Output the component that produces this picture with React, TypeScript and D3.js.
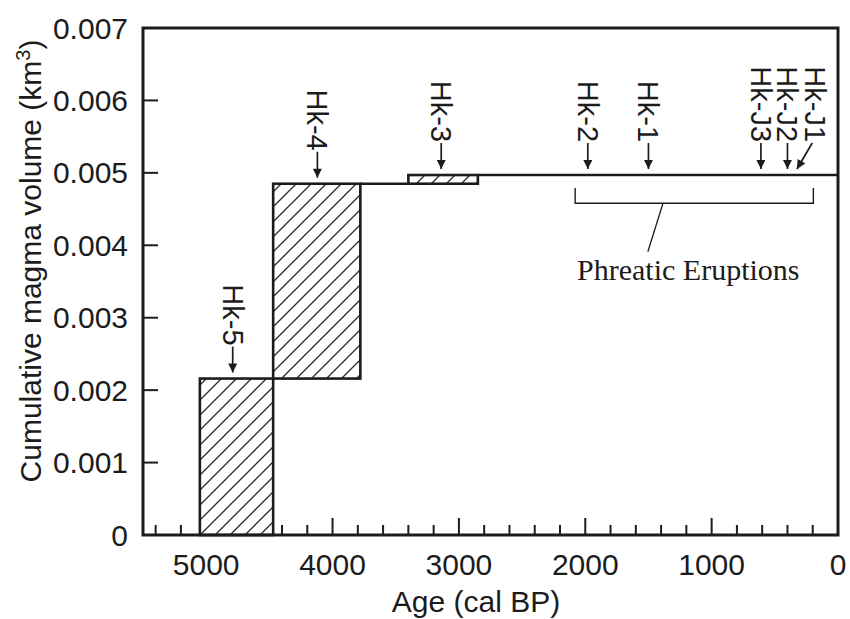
import React from 'react';
import * as d3 from 'd3';

// eruptions that added magma volume (ages in cal BP, volumes in km3)
const eruptionNames = ['Hk-5', 'Hk-4', 'Hk-3'];
const eruptionStart = [5050, 4470, 3400];
const eruptionEnd = [4470, 3780, 2850];
const volumeBefore = [0, 0.00216, 0.00485];
const volumeAfter = [0.00216, 0.00485, 0.00497];

// arrow markers
const markerNames = ['Hk-5', 'Hk-4', 'Hk-3', 'Hk-2', 'Hk-1', 'Hk-J3', 'Hk-J2', 'Hk-J1'];
const markerAges = [4790, 4120, 3140, 1980, 1500, 610, 400, 325];
const markerLabelAges = [4790, 4120, 3140, 1980, 1500, 610, 400, 180];

const xTicks = [5000, 4000, 3000, 2000, 1000, 0];
const xTickLabels = ['5000', '4000', '3000', '2000', '1000', '0'];
const yTicks = [0, 0.001, 0.002, 0.003, 0.004, 0.005, 0.006, 0.007];
const yTickLabels = ['0', '0.001', '0.002', '0.003', '0.004', '0.005', '0.006', '0.007'];

// phreatic eruptions bracket (ages, and volume level of the bracket)
const phreaticFrom = 2080;
const phreaticTo = 195;
const phreaticLabel = 'Phreatic Eruptions';

const width = 850;
const height = 619;
const margin = { top: 28, right: 12, bottom: 84, left: 143 };
const ink = '#1c1c1c';
const sans = 'Liberation Sans, Arial, Helvetica, sans-serif';
const serif = 'Liberation Serif, Times New Roman, serif';

const x = d3.scaleLinear().domain([5500, 0]).range([margin.left, width - margin.right]);
const y = d3.scaleLinear().domain([0, 0.007]).range([height - margin.bottom, margin.top]);

// cumulative volume at a given age
function curveAt(age: number) {
  let v = 0;
  for (let i = 0; i < eruptionNames.length; i++) {
    if (age <= eruptionStart[i]) v = volumeAfter[i];
  }
  return v;
}

export default function App() {
  const minorTicks = d3.range(5400, 0, -200);
  const majorTicks = d3.range(0.001, 0.0065, 0.001);

  // horizontal segments of the curve between eruptions
  const segments = eruptionNames.map((_, i) => {
    const from = eruptionEnd[i];
    const to = i < eruptionNames.length - 1 ? eruptionStart[i + 1] : 0;
    return { from, to, v: volumeAfter[i] };
  });

  const bracketY = y(0.00458);
  const bracketTop = y(0.00479);

  return (
    <svg width={width} height={height} style={{ position: 'absolute', left: 0, top: 0, background: '#fff' }}>
      <defs>
        <pattern id="hatch" patternUnits="userSpaceOnUse" width={15} height={15}>
          <path d="M-2,2 L2,-2 M0,15 L15,0 M13,17 L17,13" stroke="#2a2a2a" strokeWidth={1.3} />
        </pattern>
        <marker id="head" viewBox="0 0 10 10" refX={10} refY={5} markerWidth={10} markerHeight={9}
          markerUnits="userSpaceOnUse" orient="auto">
          <path d="M0,0 L10,5 L0,10 z" fill={ink} />
        </marker>
      </defs>

      {/* x ticks */}
      {minorTicks.map(t => (
        <line key={'xt' + t} x1={x(t)} x2={x(t)} y1={y(0)} y2={y(0) - (t % 1000 === 0 ? 17 : 10)}
          stroke={ink} strokeWidth={2} />
      ))}
      {/* y ticks */}
      {majorTicks.map(t => (
        <line key={'yt' + t} x1={x(5500)} x2={x(5500) + 15} y1={y(t)} y2={y(t)} stroke={ink} strokeWidth={2} />
      ))}

      {/* curve segments */}
      {segments.map((s, i) => (
        <line key={'seg' + i} x1={x(s.from)} x2={x(s.to)} y1={y(s.v)} y2={y(s.v)} stroke={ink} strokeWidth={2.6} />
      ))}

      {/* eruption boxes */}
      {eruptionNames.map((n, i) => (
        <g key={n}>
          <rect x={x(eruptionStart[i])} y={y(volumeAfter[i])}
            width={x(eruptionEnd[i]) - x(eruptionStart[i])}
            height={y(volumeBefore[i]) - y(volumeAfter[i])} fill="#fff" />
          <rect x={x(eruptionStart[i])} y={y(volumeAfter[i])}
            width={x(eruptionEnd[i]) - x(eruptionStart[i])}
            height={y(volumeBefore[i]) - y(volumeAfter[i])}
            fill="url(#hatch)" stroke={ink} strokeWidth={2.6} />
        </g>
      ))}

      {/* frame */}
      <rect x={x(5500)} y={y(0.007)} width={x(0) - x(5500)} height={y(0) - y(0.007)}
        fill="none" stroke={ink} strokeWidth={3} />

      {/* markers */}
      {markerNames.map((n, i) => {
        const tipX = x(markerAges[i]);
        const tipY = y(curveAt(markerAges[i])) - 6;
        const lx = x(markerLabelAges[i]);
        const textEnd = tipY - 27;
        return (
          <g key={'m' + n}>
            <text transform={`translate(${lx},${textEnd}) rotate(90)`} dy="0.35em" textAnchor="end"
              fontFamily={sans} fontSize={29} fill={ink}>{n}</text>
            <line x1={lx === tipX ? tipX : lx - 3} y1={tipY - 26} x2={tipX} y2={tipY}
              stroke={ink} strokeWidth={1.7} markerEnd="url(#head)" />
          </g>
        );
      })}

      {/* phreatic bracket */}
      <path d={`M${x(phreaticFrom)},${bracketTop} V${bracketY} H${x(phreaticTo)} V${bracketTop}`}
        fill="none" stroke={ink} strokeWidth={1.4} />
      <line x1={x(1385)} y1={bracketY} x2={x(1505)} y2={y(0.00391)} stroke={ink} strokeWidth={1.3} />
      <text x={x(1185)} y={y(0.00352)} textAnchor="middle"
        fontFamily={serif} fontSize={30} fill={ink}>{phreaticLabel}</text>

      {/* tick labels */}
      {xTicks.map((t, i) => (
        <text key={'xl' + t} x={x(t)} y={575} textAnchor="middle" fontFamily={sans} fontSize={30} fill={ink}>
          {xTickLabels[i]}
        </text>
      ))}
      {yTicks.map((t, i) => (
        <text key={'yl' + t} x={128} y={y(t)} dy="0.35em" textAnchor="end" fontFamily={sans} fontSize={30} fill={ink}>
          {yTickLabels[i]}
        </text>
      ))}

      {/* axis titles */}
      <text x={476} y={612} textAnchor="middle" fontFamily={sans} fontSize={30} fill={ink}>Age (cal BP)</text>
      <text transform="translate(41,261) rotate(-90)" textAnchor="middle" fontFamily={sans} fontSize={30} fill={ink}>
        Cumulative magma volume (km<tspan dy={-11} fontSize={20}>3</tspan><tspan dy={11}>)</tspan>
      </text>
    </svg>
  );
}
